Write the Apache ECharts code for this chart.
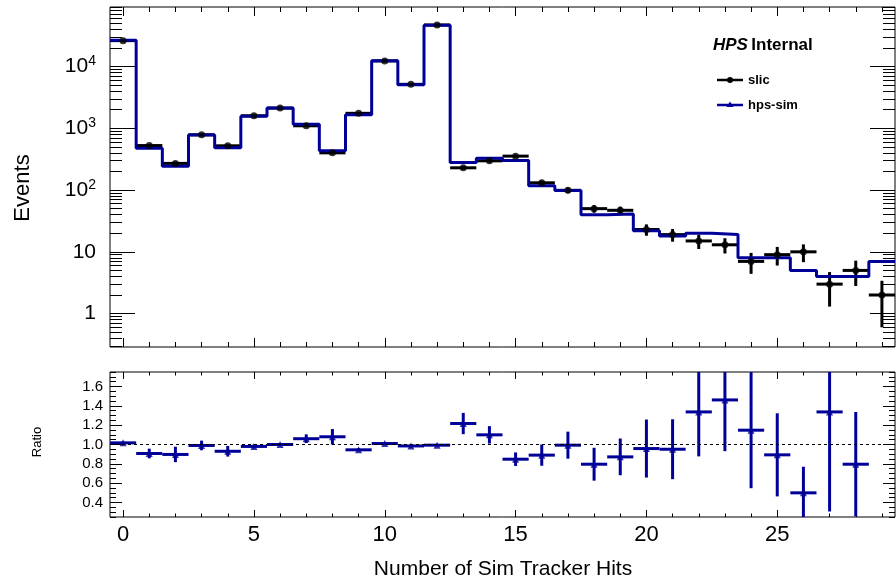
<!DOCTYPE html>
<html>
<head>
<meta charset="utf-8">
<script src="https://cdn.jsdelivr.net/npm/echarts@6/dist/echarts.min.js"></script>
<style>
  html, body { margin: 0; padding: 0; background: #ffffff; }
  #chart { width: 896px; height: 582px; }
</style>
</head>
<body>
<div id="chart"></div>
<script>
// Bin centres: number of sim tracker hits
const hitBins = [0, 1, 2, 3, 4, 5, 6, 7, 8, 9, 10, 11, 12, 13, 14, 15, 16, 17, 18, 19, 20, 21, 22, 23, 24, 25, 26, 27, 28, 29];

// slic: events per bin and their uncertainties
const slicCounts = [26200, 525, 270, 785, 520, 1595, 2120, 1097, 400, 1745, 12280, 5140, 47000, 229, 297, 354, 131, 99, 50, 47, 23, 19, 15, 13, 7, 9, 10, 3, 5, 2];
const slicErr = [162, 23, 16, 28, 23, 40, 46, 33, 20, 42, 111, 72, 217, 15, 17, 19, 11.4, 9.9, 7.1, 6.9, 4.8, 4.4, 3.9, 3.6, 2.6, 3.0, 3.2, 1.7, 2.2, 1.4];

// hps-sim: events per bin
const hpsCounts = [26650, 476, 242, 777, 484, 1563, 2120, 1163, 432, 1650, 12400, 5065, 46670, 279, 327, 300, 117, 98, 40, 41, 22, 18, 20, 19, 8, 8, 5, 4, 4, 7];

// hps-sim / slic ratio and its uncertainty (last bin lies above the drawn range)
const ratioVals = [1.017, 0.907, 0.897, 0.99, 0.93, 0.98, 1.0, 1.06, 1.08, 0.945, 1.01, 0.985, 0.993, 1.217, 1.10, 0.848, 0.89, 0.993, 0.796, 0.872, 0.958, 0.951, 1.337, 1.461, 1.148, 0.893, 0.50, 1.337, 0.796, null];
const ratioErr = [0.008, 0.05, 0.08, 0.05, 0.055, 0.02, 0.015, 0.045, 0.08, 0.015, 0.012, 0.015, 0.006, 0.11, 0.09, 0.07, 0.11, 0.14, 0.17, 0.19, 0.30, 0.31, 0.46, 0.53, 0.60, 0.43, 0.27, 1.03, 0.54, null];

// Tick positions and labels
const xMajorTicks = [0, 5, 10, 15, 20, 25];
const xMinorTicks = hitBins;
const logMajorTicks = [1, 10, 100, 1000, 10000];
const logMinorTicks = [0.3, 0.4, 0.5, 0.6, 0.7, 0.8, 0.9,
  2, 3, 4, 5, 6, 7, 8, 9,
  20, 30, 40, 50, 60, 70, 80, 90,
  200, 300, 400, 500, 600, 700, 800, 900,
  2000, 3000, 4000, 5000, 6000, 7000, 8000, 9000,
  20000, 30000, 40000, 50000, 60000, 70000, 80000, 90000];
const ratioMajorTicks = [0.4, 0.6, 0.8, 1.0, 1.2, 1.4, 1.6];
const ratioMinorTicks = [0.25, 0.3, 0.35, 0.45, 0.5, 0.55, 0.65, 0.7, 0.75, 0.85, 0.9, 0.95,
  1.05, 1.1, 1.15, 1.25, 1.3, 1.35, 1.45, 1.5, 1.55, 1.65, 1.7, 1.75];

const FONT = "'Liberation Sans', Arial, Helvetica, sans-serif";
const BLUE = '#000099';
const X_MIN = -0.5, X_MAX = 29.5;
const LOG_MIN = 0.288, LOG_MAX = 91800;
const R_MIN = 0.25, R_MAX = 1.75;

const chart = echarts.init(document.getElementById('chart'), null, { renderer: 'canvas' });

function xAxisDef(grid, position, ticks, len, labels) {
  return {
    type: 'value', gridIndex: grid, position: position, min: X_MIN, max: X_MAX,
    axisLine: { show: false, onZero: false },
    splitLine: { show: false },
    axisTick: { show: true, inside: true, length: len, customValues: ticks, lineStyle: { color: '#000', width: 1 } },
    axisLabel: labels ? {
      show: true, customValues: labels, fontSize: 22, fontFamily: FONT, color: '#000', margin: 7
    } : { show: false }
  };
}

function yAxisDef(grid, position, type, min, max, ticks, len, labelCfg) {
  return {
    type: type, gridIndex: grid, position: position, min: min, max: max,
    logBase: 10,
    axisLine: { show: false, onZero: false },
    splitLine: { show: false },
    axisTick: { show: true, inside: true, length: len, customValues: ticks, lineStyle: { color: '#000', width: 1 } },
    axisLabel: labelCfg || { show: false }
  };
}

function logLabel(v) {
  if (Math.abs(v - 1) < 1e-9) return '{b|1}';
  if (Math.abs(v - 10) < 1e-9) return '{b|10}';
  return '{b|10}{s|' + Math.round(Math.log10(v)) + '}';
}

// Step outline of the hps-sim histogram
const hpsStep = [];
hitBins.forEach((b, i) => {
  hpsStep.push([b - 0.5, hpsCounts[i]]);
  hpsStep.push([b + 0.5, hpsCounts[i]]);
});

const slicData = hitBins.map((b, i) => [b, slicCounts[i], slicErr[i]]);
const ratioData = [];
hitBins.forEach((b, i) => {
  if (ratioVals[i] !== null) ratioData.push([b, ratioVals[i], ratioErr[i]]);
});

function clampPt(p, cs) {
  return [
    Math.min(Math.max(p[0], cs.x), cs.x + cs.width),
    Math.min(Math.max(p[1], cs.y), cs.y + cs.height)
  ];
}

function errorBarRenderer(color) {
  return function (params, api) {
    const x = api.value(0), v = api.value(1), e = api.value(2);
    const cs = params.coordSys;
    const l = clampPt(api.coord([x - 0.5, v]), cs);
    const r = clampPt(api.coord([x + 0.5, v]), cs);
    const hi = clampPt(api.coord([x, v + e]), cs);
    const lo = clampPt(api.coord([x, v - e]), cs);
    const style = { stroke: color, lineWidth: 3, fill: null };
    const children = [];
    const c = api.coord([x, v]);
    if (c[1] >= cs.y && c[1] <= cs.y + cs.height) {
      children.push({ type: 'line', shape: { x1: l[0], y1: l[1], x2: r[0], y2: r[1] }, style: style });
    }
    children.push({ type: 'line', shape: { x1: hi[0], y1: hi[1], x2: lo[0], y2: lo[1] }, style: style });
    return { type: 'group', children: children };
  };
}

const option = {
  animation: false,
  backgroundColor: '#ffffff',
  grid: [
    { left: 110, top: 7, width: 785, height: 340, show: true, borderColor: '#000', borderWidth: 1, backgroundColor: 'transparent' },
    { left: 110, top: 372, width: 785, height: 145, show: true, borderColor: '#000', borderWidth: 1, backgroundColor: 'transparent' }
  ],
  xAxis: [
    xAxisDef(0, 'bottom', xMajorTicks, 9),
    xAxisDef(0, 'bottom', xMinorTicks, 5),
    xAxisDef(0, 'top', xMajorTicks, 9),
    xAxisDef(0, 'top', xMinorTicks, 5),
    xAxisDef(1, 'bottom', xMajorTicks, 7, xMajorTicks),
    xAxisDef(1, 'bottom', xMinorTicks, 3.5),
    xAxisDef(1, 'top', xMajorTicks, 7),
    xAxisDef(1, 'top', xMinorTicks, 3.5)
  ],
  yAxis: [
    yAxisDef(0, 'left', 'log', LOG_MIN, LOG_MAX, logMajorTicks, 25, {
      show: true, customValues: logMajorTicks, formatter: logLabel, margin: 14,
      fontFamily: FONT, color: '#000', fontSize: 21,
      rich: {
        b: { fontSize: 21, fontFamily: FONT, color: '#000' },
        s: { fontSize: 14, fontFamily: FONT, color: '#000', padding: [0, 0, 10, 0] }
      }
    }),
    yAxisDef(0, 'left', 'log', LOG_MIN, LOG_MAX, logMinorTicks, 12),
    yAxisDef(0, 'right', 'log', LOG_MIN, LOG_MAX, logMajorTicks, 25),
    yAxisDef(0, 'right', 'log', LOG_MIN, LOG_MAX, logMinorTicks, 12),
    yAxisDef(1, 'left', 'value', R_MIN, R_MAX, ratioMajorTicks, 12, {
      show: true, customValues: ratioMajorTicks, formatter: v => v.toFixed(1), margin: 7,
      fontFamily: FONT, color: '#000', fontSize: 15
    }),
    yAxisDef(1, 'left', 'value', R_MIN, R_MAX, ratioMinorTicks, 6),
    yAxisDef(1, 'right', 'value', R_MIN, R_MAX, ratioMajorTicks, 12),
    yAxisDef(1, 'right', 'value', R_MIN, R_MAX, ratioMinorTicks, 6)
  ],
  series: [
    {
      name: 'slic-errors', type: 'custom', xAxisIndex: 0, yAxisIndex: 0,
      data: slicData, renderItem: errorBarRenderer('#000'), z: 2, silent: true
    },
    {
      name: 'hps-sim', type: 'line', xAxisIndex: 0, yAxisIndex: 0,
      data: hpsStep, showSymbol: false, symbol: 'none', clip: true,
      lineStyle: { color: BLUE, width: 3 }, z: 3, silent: true
    },
    {
      name: 'slic', type: 'scatter', xAxisIndex: 0, yAxisIndex: 0,
      data: slicData.map(d => [d[0], d[1]]), symbol: 'circle', symbolSize: 7,
      itemStyle: { color: '#000' }, z: 4, silent: true
    },
    {
      name: 'ratio-errors', type: 'custom', xAxisIndex: 4, yAxisIndex: 4,
      data: ratioData, renderItem: errorBarRenderer(BLUE), z: 3, silent: true
    },
    {
      name: 'ratio', type: 'scatter', xAxisIndex: 4, yAxisIndex: 4,
      data: ratioData.map(d => [d[0], d[1]]), symbol: 'triangle', symbolSize: 7,
      itemStyle: { color: BLUE }, z: 4, silent: true,
      markLine: {
        silent: true, symbol: 'none', label: { show: false },
        lineStyle: { color: '#000', width: 1, type: [3, 3] },
        data: [{ yAxis: 1.0 }]
      }
    }
  ],
  graphic: [
    {
      type: 'text', x: 23, y: 188, rotation: Math.PI / 2,
      style: { text: 'Events', fontSize: 22, fontFamily: FONT, fill: '#000', textAlign: 'center', textVerticalAlign: 'middle' }
    },
    {
      type: 'text', x: 37, y: 442, rotation: Math.PI / 2,
      style: { text: 'Ratio', fontSize: 13, fontFamily: FONT, fill: '#000', textAlign: 'center', textVerticalAlign: 'middle' }
    },
    {
      type: 'text', x: 503, y: 569,
      style: { text: 'Number of Sim Tracker Hits', fontSize: 21, fontFamily: FONT, fill: '#000', textAlign: 'center', textVerticalAlign: 'middle' }
    },
    {
      type: 'text', x: 713, y: 45,
      style: {
        text: '{i|HPS} {b|Internal}', textAlign: 'left', textVerticalAlign: 'middle',
        rich: {
          i: { fontSize: 17, fontFamily: FONT, fontWeight: 'bold', fontStyle: 'italic', fill: '#000' },
          b: { fontSize: 17, fontFamily: FONT, fontWeight: 'bold', fill: '#000' }
        }
      }
    },
    { type: 'line', shape: { x1: 717, y1: 80, x2: 743, y2: 80 }, style: { stroke: '#000', lineWidth: 2.5 } },
    { type: 'circle', shape: { cx: 730, cy: 80, r: 3 }, style: { fill: '#000' } },
    {
      type: 'text', x: 748, y: 80,
      style: { text: 'slic', fontSize: 13, fontWeight: 'bold', fontFamily: FONT, fill: '#000', textAlign: 'left', textVerticalAlign: 'middle' }
    },
    { type: 'line', shape: { x1: 717, y1: 105, x2: 743, y2: 105 }, style: { stroke: BLUE, lineWidth: 2.5 } },
    { type: 'polygon', shape: { points: [[730, 101.5], [733.5, 107], [726.5, 107]] }, style: { fill: BLUE } },
    {
      type: 'text', x: 748, y: 105,
      style: { text: 'hps-sim', fontSize: 13, fontWeight: 'bold', fontFamily: FONT, fill: '#000', textAlign: 'left', textVerticalAlign: 'middle' }
    }
  ]
};

chart.setOption(option);
</script>
</body>
</html>
